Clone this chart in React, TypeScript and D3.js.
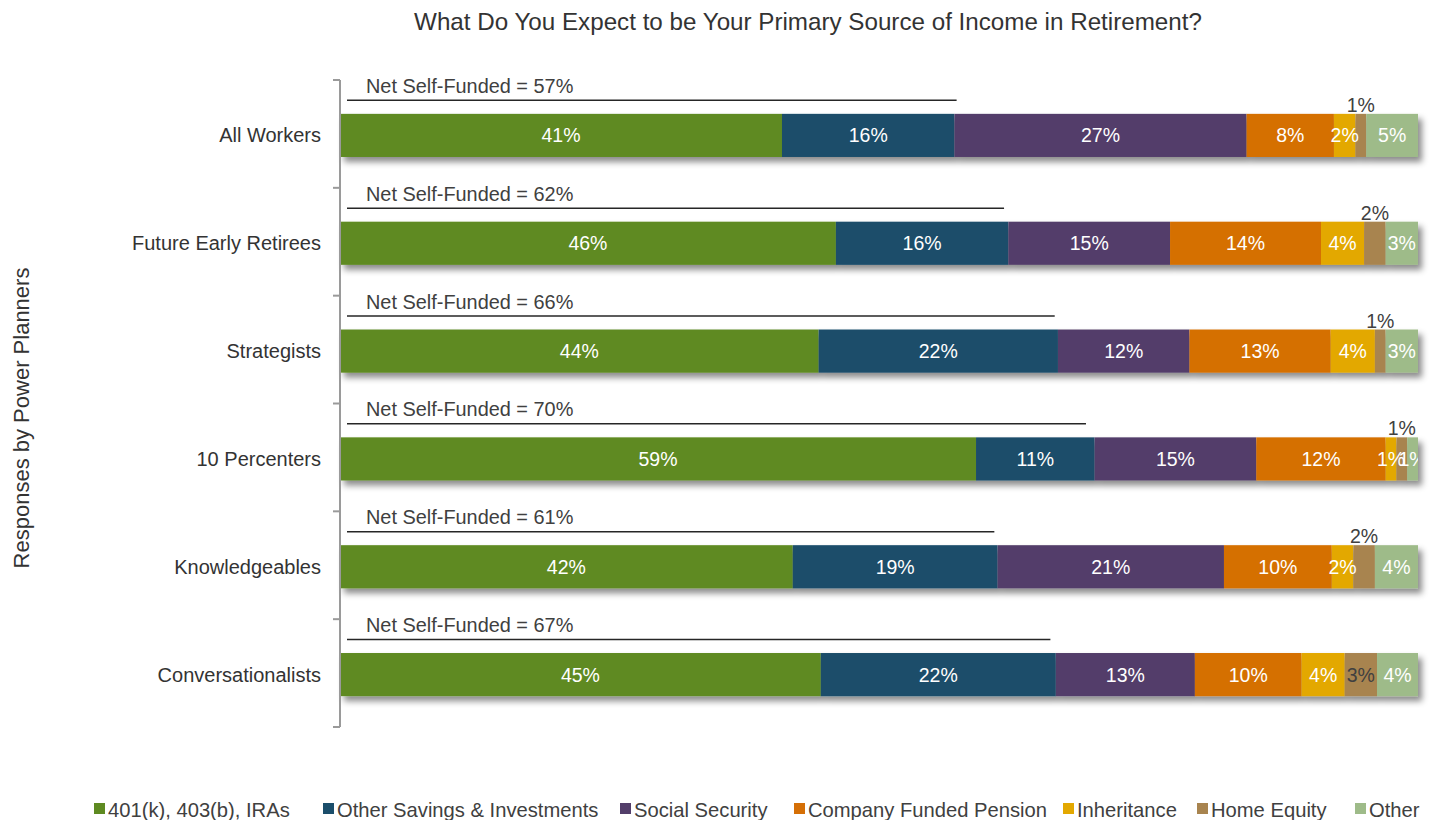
import React from "react";
import * as d3 from "d3";

const categories = ["All Workers", "Future Early Retirees", "Strategists", "10 Percenters", "Knowledgeables", "Conversationalists"];
const seriesNames = ["401(k), 403(b), IRAs", "Other Savings & Investments", "Social Security", "Company Funded Pension", "Inheritance", "Home Equity", "Other"];
const seriesColors = ["#5E8A21", "#1B4E6B", "#533E6A", "#D56F06", "#E3A800", "#A8844F", "#9EBB89"];
const iras = [41, 46, 44.4, 59, 42, 44.6];
const otherSavings = [16, 16, 22.2, 11, 19, 21.8];
const socialSecurity = [27.1, 15, 12.2, 15, 21, 12.9];
const pension = [8.1, 14, 13.1, 12, 10, 9.9];
const inheritance = [2, 4, 4.1, 1, 2, 4];
const homeEquity = [1, 2, 1, 1, 2, 3];
const other = [4.8, 3, 3, 1, 4, 3.8];
const labelIras = ["41%", "46%", "44%", "59%", "42%", "45%"];
const labelOtherSavings = ["16%", "16%", "22%", "11%", "19%", "22%"];
const labelSocial = ["27%", "15%", "12%", "15%", "21%", "13%"];
const labelPension = ["8%", "14%", "13%", "12%", "10%", "10%"];
const labelInheritance = ["2%", "4%", "4%", "1%", "2%", "4%"];
const labelHome = ["1%", "2%", "1%", "1%", "2%", "3%"];
const labelOther = ["5%", "3%", "3%", "1%", "4%", "4%"];
const netSelfFunded = [57, 62, 66, 70, 61, 67];
// extent of the bracket line drawn above each bar, in percent units
const netSelfFundedLine = [57.2, 61.6, 66.3, 69.2, 60.7, 65.9];
const homeLabelAbove = [true, true, true, true, true, false];

const seriesValues = [iras, otherSavings, socialSecurity, pension, inheritance, homeEquity, other];
const seriesLabels = [labelIras, labelOtherSavings, labelSocial, labelPension, labelInheritance, labelHome, labelOther];

const FONT = "'Liberation Sans', Arial, sans-serif";

export default function App() {
  const W = 1431, H = 820;
  const x = d3.scaleLinear().domain([0, 100]).range([340, 1418]);
  const y = d3.scaleBand().domain(categories).range([81.5, 728.5]).paddingInner(0.6).paddingOuter(0.3);
  const band = d3.scaleBand().domain(categories).range([80, 727]);
  const stackData = categories.map((c, i) => {
    const o: any = { cat: c };
    seriesNames.forEach((s, j) => { o[s] = seriesValues[j][i]; });
    return o;
  });
  const stacked = d3.stack().keys(seriesNames)(stackData as any);
  const bh = y.bandwidth();
  const ticks = [...categories.map((c) => band(c) as number), 727];

  const legendX = [94, 323, 620, 794, 1063, 1197, 1355];

  return (
    <svg width={W} height={H} style={{ position: "absolute", left: 0, top: 0, background: "#fff" }} fontFamily={FONT}>
      <defs>
        <filter id="shadow" x="-5%" y="-30%" width="110%" height="180%">
          <feDropShadow dx="4" dy="5" stdDeviation="3" floodColor="#000" floodOpacity="0.45" />
        </filter>
        <clipPath id="clip">
          <rect x={0} y={0} width={1418} height={H} />
        </clipPath>
      </defs>
      <text x={808} y={30} textAnchor="middle" fontSize={24.2} fill="#333">
        What Do You Expect to be Your Primary Source of Income in Retirement?
      </text>
      <text transform="translate(29,418) rotate(-90)" textAnchor="middle" fontSize={22} fill="#333">
        Responses by Power Planners
      </text>
      {categories.map((c, i) => (
        <g key={c} filter="url(#shadow)">
          {stacked.map((s, j) => (
            <rect key={j} x={x(s[i][0])} y={y(c)} width={x(s[i][1]) - x(s[i][0])} height={bh} fill={seriesColors[j]} />
          ))}
        </g>
      ))}
      <line x1={340} x2={340} y1={80} y2={727} stroke="#9a9a9a" strokeWidth={2} />
      {ticks.map((t, i) => (
        <line key={i} x1={333} x2={340} y1={t} y2={t} stroke="#9a9a9a" strokeWidth={2} />
      ))}
      {categories.map((c) => (
        <text key={c} x={321} y={(y(c) as number) + bh / 2 + 7} textAnchor="end" fontSize={20} fill="#333">
          {c}
        </text>
      ))}
      <g clipPath="url(#clip)">
        {categories.map((c, i) =>
          stacked.map((s, j) => {
            const mid = (x(s[i][0]) + x(s[i][1])) / 2;
            const above = j === 5 && homeLabelAbove[i];
            const dark = j === 5;
            return (
              <text
                key={c + j}
                x={mid}
                y={above ? (y(c) as number) - 2 : (y(c) as number) + bh / 2 + 7}
                textAnchor="middle"
                fontSize={19.5}
                fill={dark ? "#404040" : "#fff"}
              >
                {seriesLabels[j][i]}
              </text>
            );
          })
        )}
      </g>
      {categories.map((c, i) => (
        <g key={c}>
          <line x1={347} x2={x(netSelfFundedLine[i])} y1={(y(c) as number) - 13.5} y2={(y(c) as number) - 13.5} stroke="#262626" strokeWidth={1.5} />
          <text x={366} y={(y(c) as number) - 21} fontSize={19.9} fill="#404040">
            {`Net Self-Funded = ${netSelfFunded[i]}%`}
          </text>
        </g>
      ))}
      {seriesNames.map((s, j) => (
        <g key={s}>
          <rect x={legendX[j]} y={803} width={11} height={11} fill={seriesColors[j]} />
          <text x={legendX[j] + 14} y={817} fontSize={20.2} fill="#404040">
            {s}
          </text>
        </g>
      ))}
    </svg>
  );
}
